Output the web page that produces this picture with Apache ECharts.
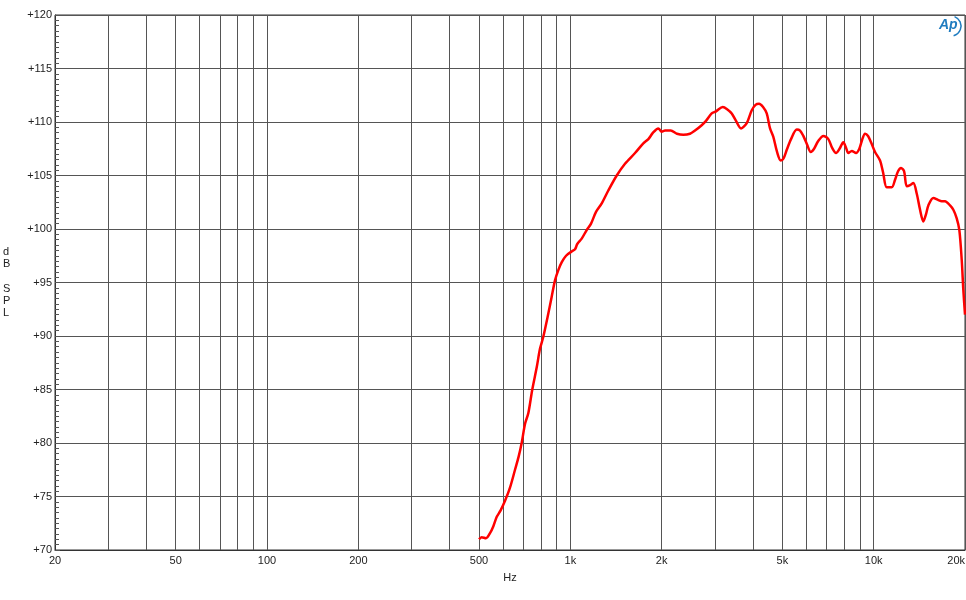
<!DOCTYPE html>
<html>
<head>
<meta charset="utf-8">
<script src="https://cdn.jsdelivr.net/npm/echarts@6/dist/echarts.min.js"></script>
<style>html,body{margin:0;padding:0;background:#fff}#c{width:966px;height:600px}</style>
</head>
<body>
<div id="c"></div>
<script>
// Frequencies (Hz) of the measured curve
var freqs = [500,510,527,544,557,572,589,609,632,657,675,691,709,727,749,775,794,814,846,867,890,914,937,968,1010,1036,1054,1090,1132,1170,1215,1269,1334,1422,1514,1634,1740,1808,1873,1950,2001,2052,2142,2246,2358,2480,2576,2710,2800,2924,3022,3180,3286,3404,3517,3654,3816,3963,4078,4188,4318,4440,4553,4668,4802,4938,5044,5169,5340,5577,5718,5862,6030,6202,6360,6556,6826,7088,7290,7514,7716,7942,8106,8250,8466,8746,8968,9152,9364,9580,9800,10102,10494,10736,11042,11470,11760,12032,12308,12592,12854,13180,13512,13868,14218,14578,14880,15142,15728,16336,16764,17188,17852,18304,18782,19160,19510,19748,20000];
// SPL values (dB)
var spl = [71.0,71.2,71.1,71.6,72.2,73.1,73.7,74.6,75.8,77.5,78.7,80.0,81.8,82.8,85.0,87.1,88.8,89.9,92.1,93.6,95.2,96.2,96.9,97.5,97.9,98.1,98.6,99.1,99.9,100.5,101.6,102.4,103.6,105.0,106.1,107.1,108.0,108.4,109.0,109.4,109.1,109.2,109.2,108.9,108.8,108.9,109.2,109.7,110.1,110.8,111.0,111.4,111.2,110.8,110.1,109.4,109.9,111.1,111.6,111.7,111.4,110.8,109.4,108.6,107.2,106.4,106.6,107.4,108.4,109.3,109.2,108.7,107.9,107.2,107.5,108.2,108.7,108.4,107.6,107.1,107.5,108.1,107.6,107.1,107.3,107.1,107.5,108.3,108.9,108.7,108.1,107.2,106.4,105.3,103.9,103.9,104.6,105.4,105.7,105.4,104.0,104.1,104.3,103.3,101.8,100.7,101.4,102.2,102.9,102.7,102.6,102.6,102.2,101.8,101.0,99.9,97.1,94.3,92.0];
// Grid line frequencies and labelled ticks
var gridFreqs = [20,30,40,50,60,70,80,90,100,200,300,400,500,600,700,800,900,1000,2000,3000,4000,5000,6000,7000,8000,9000,10000,20000];
var labelFreqs = [20,50,100,200,500,1000,2000,5000,10000,20000];
var labelTexts = ['20','50','100','200','500','1k','2k','5k','10k','20k'];
var yMin = 70, yMax = 120, yStep = 5;

var data = freqs.map(function(f, i){ return [f, spl[i]]; });
var chart = echarts.init(document.getElementById('c'), null, {renderer:'canvas'});
var fontFam = '"Liberation Sans", Arial, sans-serif';
chart.setOption({
  animation: false,
  backgroundColor: '#fff',
  grid: {left: 55, right: 1, top: 15, bottom: 50, containLabel: false, outerBoundsMode: 'none', show: true, borderColor: '#333', borderWidth: 1, backgroundColor: 'transparent'},
  xAxis: {
    type: 'log', logBase: 10, min: 20, max: 20000,
    name: 'Hz', nameLocation: 'middle', nameGap: 22,
    nameTextStyle: {fontFamily: fontFam, fontSize: 11, color: '#222'},
    axisLine: {show: true, onZero: false, lineStyle: {color: '#333', width: 1}},
    axisTick: {show: false, customValues: gridFreqs},
    minorTick: {show: false},
    axisLabel: {
      customValues: labelFreqs, margin: 5, hideOverlap: false, alignMaxLabel: 'right',
      fontFamily: fontFam, fontSize: 11, color: '#222',
      formatter: function(v){ var i = labelFreqs.indexOf(Math.round(v)); return i >= 0 ? labelTexts[i] : ''; }
    },
    splitLine: {show: true, lineStyle: {color: '#555', width: 1}},
    minorSplitLine: {show: false}
  },
  yAxis: {
    type: 'value', min: yMin, max: yMax, interval: yStep,
    axisLine: {show: true, lineStyle: {color: '#333', width: 1}},
    axisTick: {show: true, inside: true, length: 5, lineStyle: {color: '#555'}},
    minorTick: {show: true, splitNumber: 10, length: 4, lineStyle: {color: '#555'}},
    axisLabel: {
      margin: 3, fontFamily: fontFam, fontSize: 11, color: '#222',
      formatter: function(v){ return '+' + v; }
    },
    splitLine: {show: true, lineStyle: {color: '#555', width: 1}}
  },
  graphic: [
    {type: 'text', left: 3, top: 246, style: {text: 'd\nB\n\nS\nP\nL', fontFamily: fontFam, fontSize: 11, lineHeight: 12.2, fill: '#222'}},
    {type: 'text', left: 939, top: 18, style: {text: 'Ap', fontFamily: fontFam, fontSize: 14, fontStyle: 'italic', fontWeight: 'bold', fill: '#1f7cc0'}},
    {type: 'arc', shape: {cx: 951, cy: 26, r: 10, startAngle: -Math.PI/2.6, endAngle: Math.PI/2.4}, style: {stroke: '#1f7cc0', lineWidth: 1.5, fill: 'none'}}
  ],
  series: [{
    type: 'line', data: data, showSymbol: false, smooth: 0.3,
    lineStyle: {color: '#ff0000', width: 2.5},
    clip: true
  }]
});
</script>
</body>
</html>
